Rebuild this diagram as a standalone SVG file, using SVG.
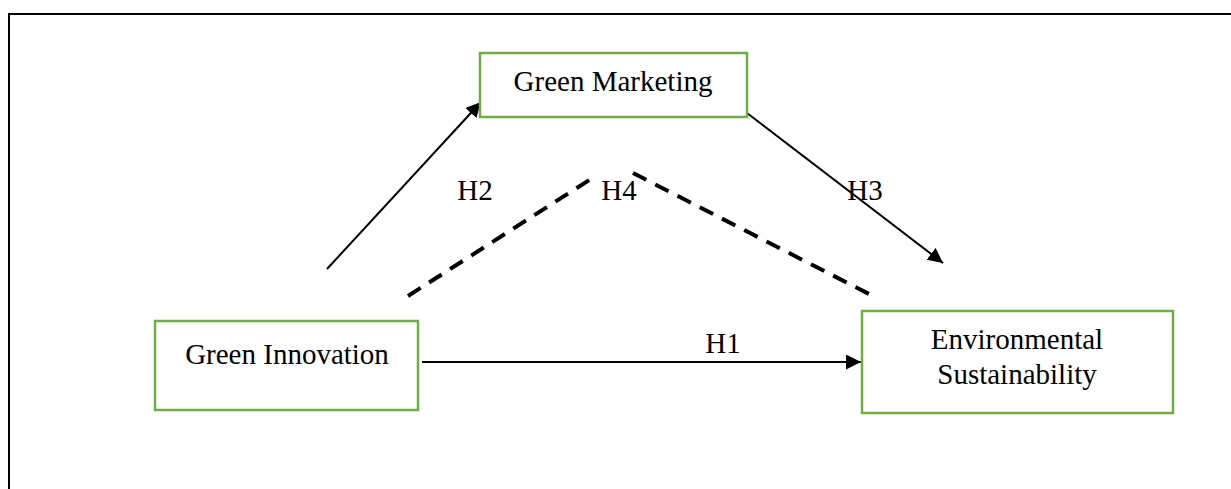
<svg xmlns="http://www.w3.org/2000/svg" width="1231" height="489" viewBox="0 0 1231 489">
<style>
.box{fill:#fff;stroke:#70AD47;stroke-width:2.5}
.lbl{font-family:"Liberation Serif","Times New Roman",serif;font-size:29px;fill:#000}
.arr{stroke:#000;stroke-width:2;fill:none}
.dash{stroke:#000;stroke-width:4;fill:none;stroke-dasharray:15 10}
</style>
<defs>
<marker id="ah" markerUnits="userSpaceOnUse" markerWidth="16" markerHeight="16" refX="15" refY="7.5" orient="auto">
<path d="M0,0 L15,7.5 L0,15 z" fill="#000"/>
</marker>
</defs>
<rect width="1231" height="489" fill="#fff"/>
<path d="M9,489 V14 H1231" fill="none" stroke="#000" stroke-width="2"/>
<g id="connectors">
<line class="arr" x1="327" y1="269" x2="481" y2="102" marker-end="url(#ah)"/>
<line class="arr" x1="747" y1="113" x2="943" y2="263" marker-end="url(#ah)"/>
<line class="arr" x1="422" y1="362" x2="861" y2="362" marker-end="url(#ah)"/>
<line class="dash" x1="408" y1="296" x2="594" y2="177"/>
<line class="dash" x1="633" y1="173" x2="869" y2="294"/>
<text class="lbl" x="475" y="200" text-anchor="middle">H2</text>
<text class="lbl" x="619" y="200" text-anchor="middle">H4</text>
<text class="lbl" x="865" y="200" text-anchor="middle">H3</text>
<text class="lbl" x="723" y="353" text-anchor="middle">H1</text>
</g>
<g id="green-marketing">
<rect class="box" x="480" y="53" width="267" height="64"/>
<text class="lbl" x="613" y="91" text-anchor="middle">Green Marketing</text>
</g>
<g id="green-innovation">
<rect class="box" x="155" y="321" width="263" height="89"/>
<text class="lbl" x="287" y="364" text-anchor="middle">Green Innovation</text>
</g>
<g id="environmental-sustainability">
<rect class="box" x="862" y="311" width="311" height="102"/>
<text class="lbl" x="1017" y="349" text-anchor="middle">Environmental</text>
<text class="lbl" x="1017" y="384" text-anchor="middle">Sustainability</text>
</g>
</svg>
